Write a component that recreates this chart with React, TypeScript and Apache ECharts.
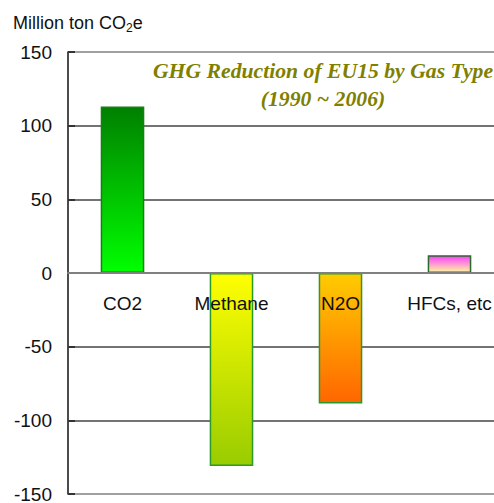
import React, { useEffect, useRef } from "react";
import * as echarts from "echarts";

const categories = ["CO2", "Methane", "N2O", "HFCs, etc"];
const values = [113, -131, -88.5, 12];
const gradientTop = ["#008000", "#ffff00", "#ffcc00", "#ff40ff"];
const gradientBottom = ["#00ff00", "#99cc00", "#ff6600", "#fff7a0"];
const borderColors = ["#1e7a1e", "#2a9a2a", "#2a9a2a", "#2a6a2a"];
const yTicks = { min: -150, max: 150, interval: 50 };
const titleLines = ["GHG Reduction of EU15 by Gas Type", "(1990 ~ 2006)"];

const W = 494;
const H = 503;
const GRID = { left: 68, top: 52, bottom: 9, right: -10 };

export default function App() {
  const ref = useRef<HTMLDivElement>(null);
  useEffect(() => {
    if (!ref.current) return;
    const chart = echarts.init(ref.current, null, { renderer: "svg" });
    const font = "Liberation Sans, Arial, sans-serif";
    const plotH = H - GRID.top - GRID.bottom;
    const zeroFromBottom = ((0 - yTicks.min) / (yTicks.max - yTicks.min)) * plotH;
    chart.setOption({
      animation: false,
      grid: { ...GRID, containLabel: false, outerBoundsMode: "none" },
      xAxis: {
        type: "category",
        data: categories,
        position: "bottom",
        offset: -zeroFromBottom,
        z: 5,
        axisLine: { onZero: false, lineStyle: { color: "#808080", width: 2 } },
        axisTick: { inside: true, length: 7, lineStyle: { color: "#808080", width: 1.5 } },
        axisLabel: {
          color: "#111",
          fontSize: 19,
          fontFamily: font,
          margin: 21,
          interval: 0,
          hideOverlap: false,
        },
      },
      yAxis: {
        type: "value",
        min: yTicks.min,
        max: yTicks.max,
        interval: yTicks.interval,
        axisLine: { show: true, lineStyle: { color: "#111", width: 1.5 } },
        axisTick: { show: true, inside: true, length: 7, lineStyle: { color: "#333", width: 2 } },
        axisLabel: { color: "#111", fontSize: 19, fontFamily: font, margin: 16 },
        splitLine: {
          show: true,
          lineStyle: {
            color: ["#808080", "#444", "#444", "#808080", "#444", "#444", "#808080"],
            width: 1.5,
          },
        },
      },
      graphic: [
        {
          type: "text",
          left: 13,
          top: 14,
          style: {
            text: "{a|Million ton CO}{b|2}{a|e}",
            rich: {
              a: { fontSize: 18, fontFamily: font, fill: "#111", lineHeight: 22 },
              b: { fontSize: 12, fontFamily: font, fill: "#111", verticalAlign: "bottom", lineHeight: 22 },
            },
          },
        },
        {
          type: "text",
          x: 323,
          y: 84.5,
          style: {
            text: titleLines.join("\n"),
            fontFamily: "Liberation Serif, Times New Roman, serif",
            fontStyle: "italic",
            fontWeight: "bold",
            fontSize: 21.7,
            lineHeight: 28,
            fill: "#808000",
            align: "center",
            verticalAlign: "middle",
          },
          z: 10,
        },
      ],
      series: [
        {
          type: "bar",
          barWidth: "40%",
          data: values.map((v, i) => ({
            value: v,
            itemStyle: {
              color: new echarts.graphic.LinearGradient(0, 0, 0, 1, [
                { offset: 0, color: gradientTop[i] },
                { offset: 1, color: gradientBottom[i] },
              ]),
              borderColor: borderColors[i],
              borderWidth: 1.5,
            },
          })),
        },
      ],
    });
    return () => chart.dispose();
  }, []);
  return (
    <div
      ref={ref}
      style={{ position: "fixed", left: 0, top: 0, width: W, height: H, background: "#fff" }}
    />
  );
}
